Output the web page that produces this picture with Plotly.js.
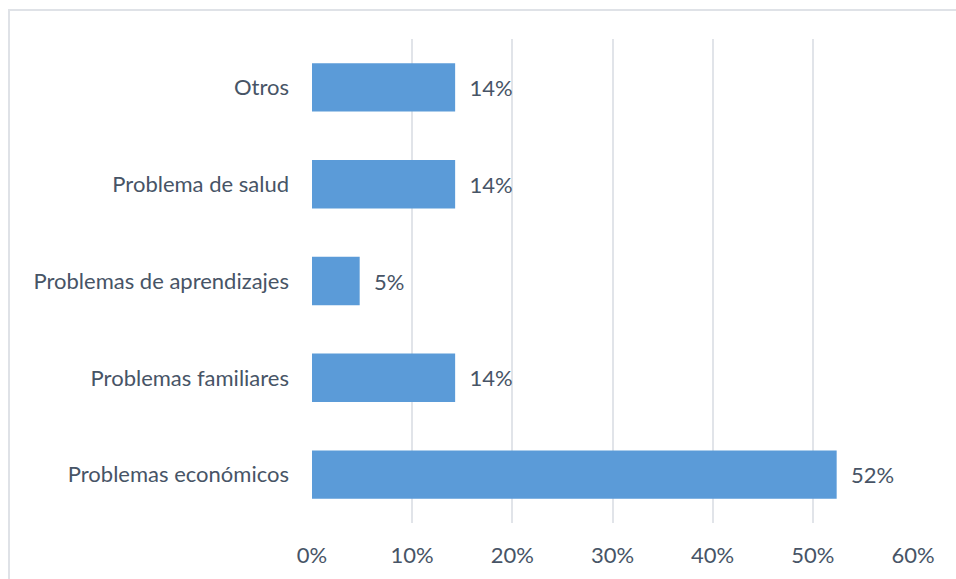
<!DOCTYPE html>
<html>
<head>
<meta charset="utf-8">
<script src="https://cdn.plot.ly/plotly-3.0.1.min.js"></script>
<style>
  html, body { margin: 0; padding: 0; background: #fff; }
  #chart { width: 956px; height: 579px; }
  #frame { position: absolute; left: 8px; top: 9px; width: 1000px; height: 700px;
           border: 2px solid #dfe2e7; pointer-events: none; box-sizing: border-box; }
</style>
</head>
<body>
<div id="frame"></div>
<div id="chart"></div>
<script>
// Data (bottom to top as drawn by Plotly)
const categories = ["Problemas económicos", "Problemas familiares", "Problemas de aprendizajes", "Problema de salud", "Otros"];
const values = [0.5238, 0.1429, 0.0476, 0.1429, 0.1429];
const labels = ["52%", "14%", "5%", "14%", "14%"];
const tickVals = [0, 0.1, 0.2, 0.3, 0.4, 0.5, 0.6];
const tickText = ["0%", "10%", "20%", "30%", "40%", "50%", "60%"];

const textColor = "#475466";
const fontFam = "Lato, 'Open Sans', sans-serif";
const fs = 22;

const trace = {
  type: "bar",
  orientation: "h",
  y: categories,
  x: values,
  text: labels,
  texttemplate: "  %{text}",
  textposition: "outside",
  cliponaxis: false,
  textfont: { family: fontFam, size: fs, color: textColor },
  marker: { color: "#5b9bd8", line: { width: 0 } },
  hoverinfo: "none"
};

const layout = {
  width: 956,
  height: 579,
  margin: { l: 312, r: 43, t: 39, b: 56 },
  paper_bgcolor: "rgba(0,0,0,0)",
  plot_bgcolor: "rgba(0,0,0,0)",
  bargap: 0.5,
  showlegend: false,
  font: { family: fontFam, size: fs, color: textColor },
  xaxis: {
    range: [0, 0.6],
    tickvals: tickVals,
    ticktext: tickText,
    showgrid: true,
    gridcolor: "#e1e4e9",
    gridwidth: 2,
    zeroline: false,
    showline: false,
    ticks: "",
    ticklabelstandoff: 17,
    tickfont: { family: fontFam, size: fs, color: textColor },
    fixedrange: true
  },
  yaxis: {
    type: "category",
    categoryorder: "array",
    categoryarray: categories,
    showgrid: false,
    zeroline: false,
    showline: false,
    ticks: "",
    ticklabelstandoff: 22,
    tickfont: { family: fontFam, size: fs, color: textColor },
    fixedrange: true
  }
};

Plotly.newPlot("chart", [trace], layout, { displayModeBar: false, staticPlot: true });
</script>
</body>
</html>
